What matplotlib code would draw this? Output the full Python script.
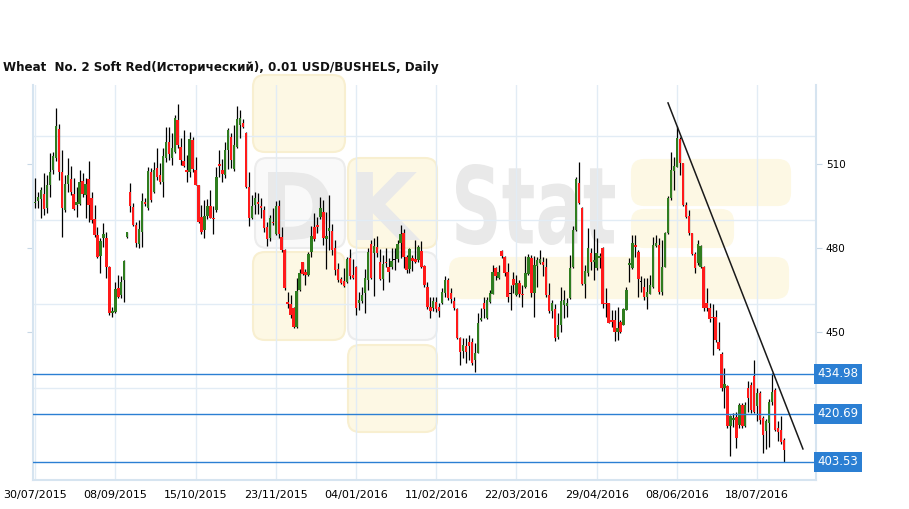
import matplotlib.pyplot as plt
from matplotlib.patches import FancyBboxPatch, PathPatch
from matplotlib.textpath import TextPath
from matplotlib.font_manager import FontProperties
from matplotlib.transforms import Affine2D

# daily OHLC (USD cents / bushel)
opens = [
    496.0, 496.8, 497.5, 499.2, 494.4, 502.3, 507.9, 512.0, 522.5, 507.0,
    493.6, 502.7, 504.6, 499.4, 495.4, 495.6, 503.9, 498.9, 504.6, 497.7,
    490.4, 484.6, 477.0, 483.7, 483.7, 473.2, 456.8, 457.0, 465.6, 463.2,
    468.6, 483.9, 499.9, 494.6, 488.2, 481.5, 485.8, 496.5, 494.2, 507.0,
    500.1, 508.4, 506.1, 503.4,
    512.0, 517.7, 512.3, 514.4, 525.7, 516.2, 511.1, 507.9, 507.0, 518.6,
    507.9, 502.3, 491.2, 486.4, 491.5, 494.8, 490.8, 493.6, 509.9, 507.7,
    506.1, 515.0, 519.8, 508.2, 516.2, 523.9, 524.5, 520.9, 501.9, 490.8,
    495.4, 496.3, 494.8, 493.6, 487.3, 483.4, 489.4, 484.9, 494.8, 484.0,
    479.3, 460.8, 459.9, 458.5,
    451.9, 464.8, 474.8, 471.4, 470.4, 478.7, 487.4, 488.2, 490.9, 493.0,
    483.1, 486.2, 486.2, 479.9, 472.4, 468.8, 468.3, 468.0, 476.3, 470.4,
    473.1, 460.3, 461.2, 464.0, 468.6, 481.4, 478.1, 480.5, 474.8, 468.8,
    475.1, 473.3, 473.1, 475.7, 476.0, 481.7, 485.5, 476.9, 472.4, 476.3,
    476.2, 475.7,
    479.0, 473.6, 466.2, 458.8, 458.5, 460.8, 458.8, 460.2, 464.0, 468.6,
    464.0, 461.2, 458.1, 447.7, 443.3, 445.0, 446.5, 446.5, 439.8, 442.6,
    454.2, 460.2, 454.9, 460.8, 463.6, 472.7, 469.2, 479.0, 476.9, 471.5,
    463.6, 468.8, 463.2, 467.6, 463.6, 466.0, 470.7, 476.3, 463.8, 473.6,
    474.5, 475.1,
    473.3, 463.2, 457.6, 458.1, 448.1, 452.5, 459.6, 459.3, 462.0, 473.3,
    486.4, 503.1, 494.2, 467.2, 471.2, 478.1, 475.1, 472.7, 476.3, 479.9,
    460.5, 460.2, 454.3, 454.3, 450.1, 453.7, 452.5, 457.9, 474.0, 472.7,
    481.1, 478.7, 468.0, 466.2, 462.6, 463.6, 466.2, 480.7, 481.1, 464.4,
    473.3, 485.2, 497.7, 507.6,
    509.0, 518.9, 510.2, 495.4, 491.5, 485.2, 477.7, 474.5, 473.3, 473.3,
    460.2, 458.5, 455.5, 455.5, 446.3,
    442.0, 430.0, 430.5, 416.5, 418.5, 419.5, 416.8, 423.9, 416.4, 429.9,
    431.1, 434.3, 423.5, 428.1, 419.2, 414.5, 417.4, 425.1, 429.3, 415.5,
    414.8, 411.4,
]
highs = [
    504.9, 500.1, 501.9, 506.7, 506.1, 513.8, 514.2, 530.1, 524.2, 515.0,
    506.1, 512.3, 509.3, 504.9, 501.9, 507.9, 506.7, 504.9, 511.1, 500.1,
    495.4, 487.6, 483.4, 488.8, 485.8, 473.6, 459.0, 468.0, 470.4, 469.8,
    475.7, 485.8, 503.1, 496.0, 489.4, 490.0, 499.5, 497.7, 509.0, 508.7,
    510.8, 515.6, 510.2, 515.6,
    523.3, 523.3, 520.9, 527.5, 531.3, 519.2, 522.1, 513.2, 521.5, 519.8,
    512.6, 502.5, 495.4, 497.1, 497.5, 500.7, 494.8, 509.0, 515.0, 511.8,
    517.7, 523.0, 520.9, 523.9, 530.8, 529.3, 526.1, 521.3, 507.3, 498.9,
    500.1, 499.5, 497.7, 494.8, 489.4, 491.8, 494.2, 496.8, 497.1, 487.3,
    479.6, 464.4, 463.2, 459.0,
    469.2, 472.4, 475.0, 472.4, 478.7, 487.9, 492.4, 491.2, 498.3, 497.1,
    493.0, 499.0, 488.6, 482.9, 474.5, 469.5, 472.8, 476.9, 479.5, 476.0,
    473.6, 464.4, 466.2, 472.4, 479.9, 482.9, 483.5, 484.3, 479.5, 477.5,
    479.9, 476.3, 479.9, 479.9, 482.9, 488.2, 486.7, 477.5, 479.9, 477.5,
    482.9, 481.1,
    482.6, 474.0, 468.0, 462.6, 462.6, 462.6, 460.2, 465.6, 470.0, 469.2,
    465.6, 462.6, 458.5, 448.3, 447.7, 447.7, 448.9, 447.7, 446.0, 456.7,
    458.5, 462.6, 462.6, 465.0, 473.9, 473.3, 473.9, 479.3, 477.2, 474.5,
    466.8, 471.5, 470.4, 468.6, 466.8, 477.1, 477.9, 477.5, 477.1, 476.9,
    479.3, 476.9,
    476.3, 467.4, 461.4, 460.0, 456.7, 466.2, 465.0, 462.0, 477.5, 487.9,
    505.5, 510.8, 494.5, 473.9, 487.0, 479.9, 486.7, 483.5, 478.1, 480.5,
    465.6, 460.5, 457.9, 457.9, 459.0, 454.3, 458.4, 466.2, 476.3, 484.6,
    484.6, 479.3, 469.8, 469.2, 469.2, 470.4, 484.0, 484.6, 483.5, 482.9,
    485.8, 498.6, 514.4, 512.6,
    523.7, 519.5, 510.5, 496.5, 493.6, 485.5, 478.7, 482.9, 481.1, 473.6,
    465.6, 460.2, 459.9, 457.9, 453.7,
    443.0, 437.0, 431.0, 420.4, 421.0, 421.5, 424.5, 424.5, 425.0, 432.5,
    432.0, 439.8, 430.0, 429.0, 420.0, 419.0, 426.0, 435.5, 430.0, 418.0,
    420.0, 412.0,
]
lows = [
    494.2, 494.2, 490.6, 491.8, 492.4, 498.3, 506.5, 511.0, 504.3, 484.0,
    493.0, 500.1, 498.9, 493.6, 491.2, 495.4, 498.3, 490.6, 489.4, 488.8,
    484.0, 476.3, 471.0, 480.5, 469.4, 456.1, 455.5, 456.7, 462.0, 462.0,
    460.8, 483.4, 493.0, 487.8, 480.5, 480.1, 480.5, 494.8, 493.6, 496.5,
    499.5, 504.3, 502.7, 498.3,
    510.8, 511.4, 509.6, 513.8, 515.6, 509.6, 509.0, 503.4, 505.5, 507.0,
    502.3, 488.8, 484.9, 483.4, 490.4, 490.6, 484.9, 493.0, 505.5, 503.4,
    504.9, 508.2, 508.7, 507.5, 515.6, 519.4, 522.7, 501.5, 488.0, 490.4,
    492.0, 492.0, 490.8, 485.8, 480.8, 482.3, 488.2, 484.6, 483.7, 478.7,
    465.0, 458.5, 455.1, 451.3,
    451.3, 464.5, 470.4, 466.8, 469.8, 476.9, 482.3, 485.2, 490.5, 481.1,
    472.4, 479.3, 477.5, 470.4, 468.0, 467.0, 466.0, 467.4, 468.8, 468.8,
    456.1, 457.9, 460.5, 456.7, 464.8, 468.8, 462.9, 476.9, 468.6, 465.0,
    473.1, 468.0, 472.4, 472.0, 475.1, 476.3, 472.8, 471.2, 471.0, 471.6,
    474.5, 475.1,
    472.7, 466.2, 458.1, 454.9, 457.6, 457.0, 455.2, 459.8, 462.6, 461.4,
    460.2, 457.9, 447.5, 438.2, 440.6, 438.8, 440.0, 438.2, 435.8, 442.4,
    454.0, 454.9, 454.7, 460.5, 463.4, 468.6, 469.0, 476.5, 470.0, 460.8,
    457.9, 463.8, 463.0, 462.6, 459.0, 465.8, 470.5, 462.6, 455.5, 466.2,
    474.3, 470.0,
    462.6, 456.9, 454.9, 446.6, 447.4, 450.1, 454.9, 455.5, 461.8, 473.0,
    486.2, 495.7, 466.8, 462.0, 469.8, 472.2, 468.6, 472.2, 472.7, 458.5,
    455.5, 453.1, 451.9, 446.6, 447.1, 449.5, 452.3, 457.7, 468.0, 472.5,
    476.9, 462.6, 464.4, 461.4, 458.1, 463.4, 465.6, 480.5, 463.6, 463.2,
    473.1, 485.0, 497.1, 500.7,
    508.8, 506.1, 494.8, 490.6, 484.6, 477.5, 471.0, 473.9, 472.7, 457.5,
    457.3, 453.7, 441.8, 446.5, 443.6,
    429.0, 422.7, 415.8, 405.5, 416.0, 408.5, 415.5, 415.5, 416.0, 421.3,
    421.0, 421.0, 418.0, 417.0, 406.7, 408.0, 409.0, 424.0, 414.5, 411.0,
    410.0, 403.7,
]
closes = [
    496.3, 498.3, 500.7, 493.8, 502.5, 507.0, 513.0, 523.7, 507.3, 494.2,
    502.7, 506.1, 500.1, 493.9, 496.3, 503.7, 499.2, 502.7, 495.4, 490.0,
    484.6, 476.8, 482.5, 484.9, 473.2, 456.6, 457.5, 465.4, 462.6, 468.0,
    475.5, 485.6, 494.8, 488.2, 481.7, 486.8, 496.8, 495.6, 507.5, 497.1,
    507.7, 505.5, 503.7, 512.7,
    518.0, 513.4, 515.6, 526.5, 516.8, 511.4, 509.4, 507.0, 518.9, 508.2,
    502.5, 489.4, 485.8, 491.5, 494.8, 490.8, 490.4, 505.5, 509.4, 506.3,
    515.0, 522.1, 511.4, 516.8, 526.1, 526.3, 523.3, 501.9, 490.8, 494.8,
    497.7, 495.6, 494.2, 487.0, 483.2, 490.6, 488.8, 494.8, 484.9, 479.3,
    465.6, 459.9, 456.1, 451.9,
    464.6, 471.2, 470.7, 470.5, 477.9, 484.3, 483.1, 487.6, 494.2, 483.5,
    484.1, 487.0, 479.3, 472.1, 468.6, 467.4, 466.4, 476.0, 469.8, 469.2,
    458.5, 461.4, 463.2, 469.2, 478.7, 469.2, 480.7, 478.3, 468.8, 474.3,
    474.5, 471.5, 475.5, 475.7, 481.4, 485.0, 476.7, 472.1, 479.5, 475.5,
    475.1, 480.2,
    473.1, 466.8, 458.8, 457.6, 461.2, 458.1, 457.6, 464.4, 468.6, 462.0,
    461.7, 458.5, 447.7, 443.0, 445.4, 443.0, 444.8, 438.8, 442.6, 453.1,
    454.9, 458.1, 461.4, 463.8, 471.5, 469.8, 471.5, 477.1, 471.2, 462.6,
    463.6, 466.8, 467.6, 463.6, 463.1, 471.0, 476.9, 464.0, 473.9, 475.7,
    476.0, 473.9,
    463.2, 457.3, 460.2, 447.7, 452.5, 461.2, 461.4, 460.2, 472.7, 486.4,
    504.5, 496.0, 467.2, 471.6, 479.9, 474.8, 475.7, 478.1, 477.1, 460.0,
    460.0, 453.3, 453.7, 449.8, 451.3, 449.8, 458.1, 465.0, 474.6, 481.7,
    480.3, 468.8, 468.0, 462.6, 464.4, 466.8, 481.1, 481.7, 464.4, 473.3,
    485.2, 497.7, 507.9, 509.1,
    519.2, 510.2, 495.4, 491.2, 485.2, 477.7, 472.7, 481.3, 480.8, 458.7,
    458.5, 454.6, 455.1, 447.1, 443.9,
    430.0, 431.5, 416.5, 419.8, 419.3, 412.0, 423.9, 416.4, 424.0, 426.3,
    422.1, 421.5, 428.0, 418.6, 413.2, 418.0, 425.1, 428.7, 415.0, 414.2,
    410.8, 407.9,
]

date_labels = ["30/07/2015", "08/09/2015", "15/10/2015", "23/11/2015", "04/01/2016",
               "11/02/2016", "22/03/2016", "29/04/2016", "08/06/2016", "18/07/2016"]
date_ticks = [0, 27, 54, 81, 108, 135, 162, 189, 216, 243]

price_ticks = [510, 480, 450]
grid_levels = [520, 490, 460, 430]
levels = [434.98, 420.69, 403.53]
trend_x = [213.0, 258.4]
trend_y = [531.8, 408.2]

title = "Wheat  No. 2 Soft Red(Исторический), 0.01 USD/BUSHELS, Daily"

UP = "#2f7d1f"
DOWN = "#ff1a1a"
GRID = "#e2ecf5"
BLUE = "#2b7fd3"
H = 5.09  # figure height, inches

fig = plt.figure(figsize=(9.09, H), dpi=100)
fig.patch.set_facecolor("white")

# faint "DK Stat" watermark behind the chart, boxes in pixels
wm_boxes = [
    (253, 75, 345, 152, "#fdf8e4", "#f8efd0"),
    (255, 158, 345, 248, "#f9f9f9", "#ececec"),
    (348, 158, 437, 248, "#fdf8e4", "#f8efd0"),
    (253, 252, 345, 340, "#fdf8e4", "#f8efd0"),
    (348, 252, 437, 340, "#f9f9f9", "#ececec"),
    (348, 345, 437, 432, "#fdf8e4", "#f8efd0"),
    (632, 160, 790, 205, "#fdf8e4", "#fdf8e4"),
    (632, 210, 733, 247, "#fdf8e4", "#fdf8e4"),
    (450, 258, 788, 298, "#fdf8e4", "#fdf8e4"),
]
for x0, y0, x1, y1, fc, ec in wm_boxes:
    p = FancyBboxPatch((x0 / 100, H - y1 / 100), (x1 - x0) / 100, (y1 - y0) / 100,
                       boxstyle="round,pad=0,rounding_size=0.12",
                       transform=fig.dpi_scale_trans, fc=fc, ec=ec, lw=1.5, zorder=-2)
    fig.add_artist(p)

wm_letters = [("D", 268, 172, 330, 240), ("K", 356, 172, 420, 240),
              ("Stat", 456, 164, 615, 245)]
bold = FontProperties(family="DejaVu Sans", weight="bold")
for txt, x0, y0, x1, y1 in wm_letters:
    tp = TextPath((0, 0), txt, size=1, prop=bold)
    bb = tp.get_extents()
    tr = (Affine2D().translate(-bb.x0, -bb.y0)
          .scale((x1 - x0) / 100 / bb.width, (y1 - y0) / 100 / bb.height)
          .translate(x0 / 100, H - y1 / 100)) + fig.dpi_scale_trans
    fig.add_artist(PathPatch(tp, transform=tr, fc="#e9e9e9", ec="none", zorder=-1))

ax = fig.add_axes([33 / 909, 29 / 509, (816 - 33) / 909, (480 - 85) / 509])
ax.patch.set_alpha(0)

for y in grid_levels:
    ax.axhline(y, color=GRID, lw=1, zorder=0)
for x in date_ticks:
    ax.axvline(x, color=GRID, lw=1, zorder=0)

idx = list(range(len(closes)))
ax.vlines(idx, lows, highs, color="black", lw=0.9, zorder=2)
colors = []
bottoms = []
heights = []
for o, c in zip(opens, closes):
    if c > o:
        colors.append(UP)
    elif c < o:
        colors.append(DOWN)
    else:
        colors.append("black")
    bottoms.append(min(o, c))
    heights.append(max(abs(c - o), 0.35))
ax.bar(idx, heights, bottom=bottoms, width=0.82, color=colors, zorder=3)

for lv in levels:
    ax.axhline(lv, color=BLUE, lw=1, zorder=4)
    ax.text(1.002, lv, f"{lv:.2f}", transform=ax.get_yaxis_transform(),
            color="white", fontsize=8.5, ha="left", va="center",
            bbox=dict(boxstyle="square,pad=0.28", fc=BLUE, ec="none"), zorder=5)

ax.plot(trend_x, trend_y, color="#1a1a1a", lw=1.1, zorder=4)

ax.set_xlim(-0.7, 262.8)
ax.set_ylim(397.1, 538.2)

ax.set_xticks(date_ticks)
ax.set_xticklabels(date_labels, fontsize=8)
ax.tick_params(axis="x", length=0, pad=7)
ax.yaxis.tick_right()
ax.set_yticks(price_ticks)
ax.set_yticklabels([str(v) for v in price_ticks], fontsize=7.5)
ax.tick_params(axis="y", which="both", left=True, right=True, length=4,
               color="#c8d8e6", pad=3)

for side in ["left", "right", "bottom"]:
    ax.spines[side].set_color("#d6e4f0")
    ax.spines[side].set_linewidth(1.5)
ax.spines["top"].set_visible(False)

fig.text(3 / 909, 1 - 68 / 509, title, fontsize=8.6, fontweight="bold",
         ha="left", va="center", color="#111111")

fig.savefig("out.png", dpi=100)
